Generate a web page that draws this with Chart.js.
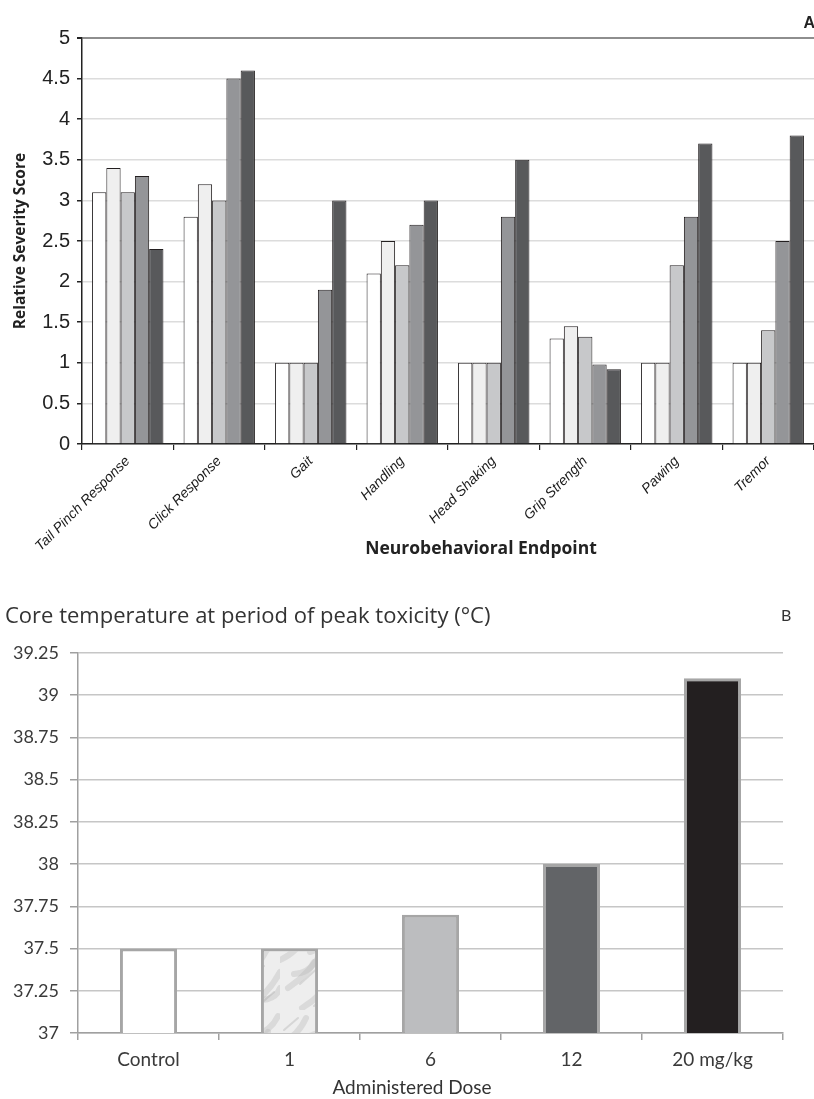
<!DOCTYPE html>
<html><head><meta charset="utf-8">
<script src="https://cdn.jsdelivr.net/npm/chart.js@4.4.1/dist/chart.umd.min.js"></script>
<style>
html,body{margin:0;padding:0;background:#fff;width:814px;height:1099px;overflow:hidden}
#a{position:absolute;left:0;top:0}
#b{position:absolute;left:0;top:590px}
</style></head><body>
<canvas id="a" width="814" height="580"></canvas>
<canvas id="b" width="814" height="509"></canvas>
<script>
// ---------- Panel A data ----------
const endpoints = ['Tail Pinch Response','Click Response','Gait','Handling','Head Shaking','Grip Strength','Pawing','Tremor'];
const seriesNames = ['Control','1 mg/kg','6 mg/kg','12 mg/kg','20 mg/kg'];
const controlScores = [3.1, 2.8, 1.0, 2.1, 1.0, 1.30, 1.0, 1.0];
const dose1Scores   = [3.4, 3.2, 1.0, 2.5, 1.0, 1.45, 1.0, 1.0];
const dose6Scores   = [3.1, 3.0, 1.0, 2.2, 1.0, 1.32, 2.2, 1.4];
const dose12Scores  = [3.3, 4.5, 1.9, 2.7, 2.8, 0.98, 2.8, 2.5];
const dose20Scores  = [2.4, 4.6, 3.0, 3.0, 3.5, 0.92, 3.7, 3.8];
const severityTicks = ['0','0.5','1','1.5','2','2.5','3','3.5','4','4.5','5'];

// ---------- Panel B data ----------
const doseLabels = ['Control','1','6','12','20 mg/kg'];
const coreTemps = [37.5, 37.5, 37.7, 38.0, 39.1];
const tempTicks = ['37','37.25','37.5','37.75','38','38.25','38.5','38.75','39','39.25'];

const textPlugin = (items) => ({
  id: 'txt',
  afterDraw(chart) {
    const c = chart.ctx;
    items.forEach(t => {
      c.save();
      c.font = t.font; c.fillStyle = t.color;
      c.textAlign = t.align || 'left'; c.textBaseline = t.base || 'alphabetic';
      c.fillText(t.text, t.x, t.y);
      c.restore();
    });
  }
});

const aColors = ['#ffffff','#efefef','#c7c8ca','#949598','#58595b'];
const aSeries = [controlScores, dose1Scores, dose6Scores, dose12Scores, dose20Scores];

new Chart(document.getElementById('a'), {
  type: 'bar',
  data: {
    labels: endpoints,
    datasets: aSeries.map((d, i) => ({
      label: seriesNames[i], data: d,
      backgroundColor: aColors[i], borderColor: '#231f20', borderWidth: 1,
      categoryPercentage: 0.78, barPercentage: 1.0
    }))
  },
  options: {
    responsive: false, animation: false,
    layout: { padding: { top: 38, right: 0, left: 0, bottom: 0 } },
    plugins: { legend: { display: false }, tooltip: { enabled: false } },
    scales: {
      x: {
        afterFit: s => { s.height = 136; },
        grid: { offset: true, drawOnChartArea: false, drawTicks: true, tickLength: 6, color: '#222', lineWidth: 1.2 },
        border: { display: true, color: '#222', width: 1.5 },
        ticks: { autoSkip: false, maxRotation: 45, minRotation: 45, padding: 3,
          font: { family: '"Liberation Sans", Arial, sans-serif', size: 14, style: 'italic' }, color: '#1a1a1a' }
      },
      y: {
        min: 0, max: 5,
        afterFit: s => { s.width = 82; },
        afterBuildTicks: s => { s.ticks = severityTicks.map(v => ({ value: parseFloat(v) })); },
        ticks: { padding: 7, callback: (v) => { const i = severityTicks.findIndex(t => parseFloat(t) === v); return i >= 0 ? severityTicks[i] : ''; },
          font: { family: '"Liberation Sans", Arial, sans-serif', size: 20 }, color: '#222' },
        grid: {
          color: c => c.tick && c.tick.value === 5 ? '#8e8e8e' : '#dcdcdc',
          lineWidth: c => c.tick && c.tick.value === 5 ? 2 : 1.5,
          tickColor: '#222', tickLength: 5, drawTicks: true
        },
        border: { display: true, color: '#222', width: 1.5 },
        title: { display: true, text: 'Relative Severity Score', color: '#222',
          font: { family: '"Open Sans", sans-serif', size: 15.5, weight: 'bold' }, padding: { top: 11, bottom: 0 } }
      }
    }
  },
  plugins: [textPlugin([
    { text: 'A', x: 815, y: 28, align: 'right', font: 'bold 16px "Liberation Sans", Arial, sans-serif', color: '#222' },
    { text: 'Neurobehavioral Endpoint', x: 481, y: 549, align: 'center', base: 'middle', font: 'bold 17.5px "Open Sans", sans-serif', color: '#222' }
  ])]
});

// soft mottled texture for the "1" bar
const pc = document.createElement('canvas'); pc.width = 56; pc.height = 84;
const px = pc.getContext('2d');
px.fillStyle = '#eeeeee'; px.fillRect(0, 0, 56, 84);
px.strokeStyle = 'rgba(180,180,180,0.35)'; px.lineWidth = 6; px.lineCap = 'round';
[[0,34,26,8],[8,62,44,22],[22,82,56,46],[30,26,54,6],[14,48,34,36],[38,74,56,62]].forEach(l => {
  px.beginPath(); px.moveTo(l[0], l[1]); px.quadraticCurveTo((l[0]+l[2])/2+5, (l[1]+l[3])/2+5, l[2], l[3]); px.stroke();
});
px.strokeStyle = 'rgba(160,160,160,0.3)'; px.lineWidth = 2;
[[4,20,18,8],[20,58,40,40],[34,80,50,66]].forEach(l => {
  px.beginPath(); px.moveTo(l[0], l[1]); px.lineTo(l[2], l[3]); px.stroke();
});
const texture = document.getElementById('b').getContext('2d').createPattern(pc, 'repeat');

new Chart(document.getElementById('b'), {
  type: 'bar',
  data: {
    labels: doseLabels,
    datasets: [{
      label: 'Core temperature', data: coreTemps,
      backgroundColor: ['#ffffff', texture, '#bcbdbf', '#626467', '#231f20'],
      borderColor: '#a6a6a6', borderWidth: 3, borderSkipped: false,
      categoryPercentage: 1.0, barPercentage: 0.405
    }]
  },
  options: {
    responsive: false, animation: false,
    layout: { padding: { top: 63, right: 31, left: 0, bottom: 0 } },
    plugins: { legend: { display: false }, tooltip: { enabled: false } },
    scales: {
      x: {
        afterFit: s => { s.height = 66; },
        grid: { offset: true, drawOnChartArea: false, drawTicks: true, tickLength: 7, color: '#a0a0a0', lineWidth: 1.5 },
        border: { display: true, color: '#a0a0a0', width: 1.5 },
        ticks: { padding: 8, font: { family: 'Lato, sans-serif', size: 19 }, color: '#3a3a3a' }
      },
      y: {
        min: 37, max: 39.25,
        afterFit: s => { s.width = 78; },
        afterBuildTicks: s => { s.ticks = tempTicks.map(v => ({ value: parseFloat(v) })); },
        ticks: { padding: 11, callback: (v) => { const i = tempTicks.findIndex(t => parseFloat(t) === v); return i >= 0 ? tempTicks[i] : ''; },
          font: { family: 'Lato, sans-serif', size: 18 }, color: '#3a3a3a' },
        grid: { color: '#c6c6c6', lineWidth: 1.5, tickColor: '#a0a0a0', tickLength: 8, drawTicks: true },
        border: { display: true, color: '#a0a0a0', width: 1.5 }
      }
    }
  },
  plugins: [textPlugin([
    { text: 'Core temperature at period of peak toxicity (°C)', x: 5, y: 33, font: '22px "Open Sans", sans-serif', color: '#333' },
    { text: 'B', x: 781, y: 31, font: '16px Lato, sans-serif', color: '#333' },
    { text: 'Administered Dose', x: 412, y: 504, align: 'center', font: '19px Lato, sans-serif', color: '#333' }
  ])]
});
</script>
</body></html>
